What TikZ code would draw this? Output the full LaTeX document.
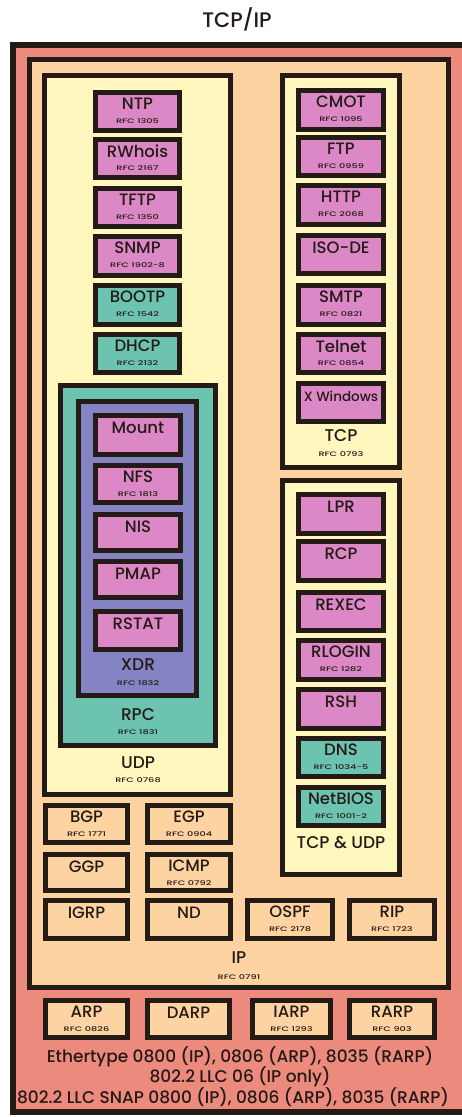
\documentclass[tikz,border=0pt]{standalone}
\usepackage{fontspec}
\setmainfont{Poppins}[UprightFont={* Medium}]
\definecolor{salmon}{HTML}{EC8A7E}
\definecolor{peach}{HTML}{FDD3A2}
\definecolor{cream}{HTML}{FFF7BE}
\definecolor{pinkb}{HTML}{DD88C6}
\definecolor{tealb}{HTML}{6CC4B0}
\definecolor{purpb}{HTML}{8484C4}
\definecolor{edge}{HTML}{241A16}
\tikzset{
  box/.style={draw=edge,line width=5pt,inner sep=0pt,outer sep=0pt},
  ttl/.style={inner sep=0pt,text=edge,font=\fontsize{16.5}{17}\selectfont},
  big/.style={inner sep=0pt,text=edge,font=\fontsize{17}{18}\selectfont},
  rfc/.style={inner sep=0pt,text=edge,font=\fontsize{6.5}{7}\selectfont},
  eth/.style={inner sep=0pt,text=edge,font=\fontsize{17}{18}\selectfont},
}
\newcommand\rfctext[1]{\scalebox{1.5}[1]{#1}}
% name, x1, y1, x2, y2, fill
\newcommand\frm[6]{\node[box,fill=#6,minimum width={(#4-#2-5)*1pt},minimum height={(#5-#3-5)*1pt}] (#1) at ({(#2+#4)/2},{(#3+#5)/2}) {};}
% name, x1, y1, x2, y2, fill, title, rfc
\newcommand\pbox[8]{\frm{#1}{#2}{#3}{#4}{#5}{#6}%
  \node[ttl] (#1-t) at ({(#2+#4)/2},{#3+14}) {#7};%
  \node[rfc] (#1-r) at ({(#2+#4)/2},{#3+31}) {\rfctext{#8}};}
\newcommand\qbox[7]{\frm{#1}{#2}{#3}{#4}{#5}{#6}%
  \node[ttl] (#1-t) at ({(#2+#4)/2},{#3+15}) {#7};}
\begin{document}
\begin{tikzpicture}[x=1pt,y=-1pt]
\useasboundingbox (0,0) rectangle (462,1117);
\begin{scope}
\clip (0,0) rectangle (462,1117);
\fill[salmon] (13,45) rectangle (470,1112);
\draw[edge,line width=6pt] (470,45) -- (13,45) -- (13,1112) -- (470,1112);
\end{scope}
\node[inner sep=0pt,font=\fontsize{21}{22}\selectfont,text=edge] (title) at (237,19) {TCP/IP};
% IP frame
\frm{ip}{27}{57}{451}{990}{peach}
\node[big] (ip-t) at (239,958) {IP};
\node[rfc] (ip-r) at (239,977) {\rfctext{RFC 0791}};
% UDP
\frm{udp}{42}{73}{233}{797}{cream}
\node[big] (udp-t) at (138,763) {UDP};
\node[rfc] (udp-r) at (138,780) {\rfctext{RFC 0768}};
\pbox{ntp}{93}{90}{182}{133}{pinkb}{NTP}{RFC 1305}
\pbox{rwhois}{93}{137}{182}{180}{pinkb}{RWhois}{RFC 2167}
\pbox{tftp}{93}{186}{182}{229}{pinkb}{TFTP}{RFC 1350}
\pbox{snmp}{93}{234}{182}{278}{pinkb}{SNMP}{RFC 1902-8}
\pbox{bootp}{93}{283}{182}{327}{tealb}{BOOTP}{RFC 1542}
\pbox{dhcp}{93}{332}{182}{375}{tealb}{DHCP}{RFC 2132}
% RPC
\frm{rpc}{58}{383}{218}{748}{tealb}
\node[big] (rpc-t) at (138,715) {RPC};
\node[rfc] (rpc-r) at (138,732) {\rfctext{RFC 1831}};
\frm{xdr}{76}{399}{199}{698}{purpb}
\node[big] (xdr-t) at (138,665) {XDR};
\node[rfc] (xdr-r) at (138,683) {\rfctext{RFC 1832}};
\qbox{mount}{93}{413}{183}{457}{pinkb}{Mount}
\pbox{nfs}{93}{463}{183}{505}{pinkb}{NFS}{RFC 1813}
\qbox{nis}{93}{512}{183}{553}{pinkb}{NIS}
\qbox{pmap}{93}{559}{183}{600}{pinkb}{PMAP}
\qbox{rstat}{93}{609}{183}{652}{pinkb}{RSTAT}
% TCP
\frm{tcp}{280}{73}{402}{470}{cream}
\node[big] (tcp-t) at (341,436) {TCP};
\node[rfc] (tcp-r) at (341,454) {\rfctext{RFC 0793}};
\pbox{cmot}{296}{88}{386}{132}{pinkb}{CMOT}{RFC 1095}
\pbox{ftp}{296}{135}{386}{178}{pinkb}{FTP}{RFC 0959}
\pbox{http}{296}{183}{386}{227}{pinkb}{HTTP}{RFC 2068}
\qbox{isode}{296}{233}{386}{276}{pinkb}{ISO-DE}
\pbox{smtp}{296}{283}{386}{327}{pinkb}{SMTP}{RFC 0821}
\pbox{telnet}{296}{332}{386}{375}{pinkb}{Telnet}{RFC 0854}
\frm{xwin}{296}{381}{386}{424}{pinkb}
\node[ttl,font=\fontsize{13.5}{14}\selectfont] (xwin-t) at (341,396) {X Windows};
% TCP & UDP
\frm{tu}{280}{478}{402}{877}{cream}
\node[big] (tu-t) at (341,843) {TCP \& UDP};
\qbox{lpr}{296}{492}{386}{536}{pinkb}{LPR}
\qbox{rcp}{296}{539}{386}{583}{pinkb}{RCP}
\qbox{rexec}{296}{590}{386}{633}{pinkb}{REXEC}
\pbox{rlogin}{296}{638}{386}{682}{pinkb}{RLOGIN}{RFC 1282}
\qbox{rsh}{296}{687}{386}{731}{pinkb}{RSH}
\pbox{dns}{296}{736}{386}{779}{tealb}{DNS}{RFC 1034-5}
\pbox{netbios}{296}{785}{386}{828}{tealb}{NetBIOS}{RFC 1001-2}
% routing
\pbox{bgp}{43}{803}{130}{845}{peach}{BGP}{RFC 1771}
\pbox{egp}{145}{803}{233}{845}{peach}{EGP}{RFC 0904}
\qbox{ggp}{43}{852}{130}{893}{peach}{GGP}
\pbox{icmp}{145}{852}{233}{893}{peach}{ICMP}{RFC 0792}
\qbox{igrp}{43}{898}{130}{941}{peach}{IGRP}
\qbox{nd}{145}{898}{233}{941}{peach}{ND}
\pbox{ospf}{245}{898}{335}{941}{peach}{OSPF}{RFC 2178}
\pbox{rip}{347}{898}{437}{941}{peach}{RIP}{RFC 1723}
% link layer
\pbox{arp}{43}{998}{130}{1040}{peach}{ARP}{RFC 0826}
\qbox{darp}{145}{998}{232}{1040}{peach}{DARP}
\pbox{iarp}{250}{998}{333}{1040}{peach}{IARP}{RFC 1293}
\pbox{rarp}{347}{998}{437}{1040}{peach}{RARP}{RFC 903}
\node[eth] (eth1) at (240,1057) {Ethertype 0800 (IP), 0806 (ARP), 8035 (RARP)};
\node[eth] (eth2) at (240,1077) {802.2 LLC 06 (IP only)};
\node[eth] (eth3) at (233,1097) {802.2 LLC SNAP 0800 (IP), 0806 (ARP), 8035 (RARP)};
\end{tikzpicture}
\end{document}
